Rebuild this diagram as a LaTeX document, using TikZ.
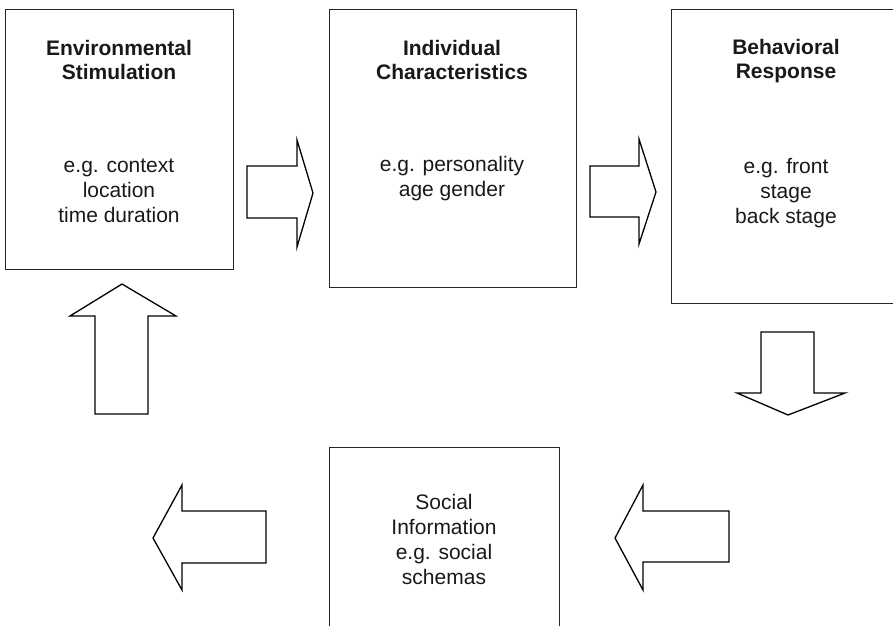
\documentclass[tikz,border=0pt]{standalone}
\usepackage{fontspec}
\setmainfont{Liberation Sans}
\usetikzlibrary{positioning}

\begin{document}
\begin{tikzpicture}[x=1pt,y=-1pt,
    stagebox/.style={draw=black!85, line width=1pt, anchor=north west, inner sep=0pt},
    headtxt/.style={font=\fontsize{21}{24.5}\selectfont\bfseries, align=center, inner sep=0pt, text=black!90},
    bodytxt/.style={font=\fontsize{21}{25}\selectfont, align=center, inner sep=0pt, text=black!90},
    blockarrow/.style={draw=black, line width=1.3pt, line join=miter}]
			%%%%% START %%%%%
			
			\useasboundingbox (0,0) rectangle (893,625);
			\clip (0,0) rectangle (893,625);
			
			% the four boxes
			\node[stagebox, minimum width=228, minimum height=260] (env) at (5,9) {};
			\node[headtxt] (envhead) at (119,60) {Environmental\\Stimulation};
			\node[bodytxt] (envbody) at (119,191) {e.g. context\\location\\time duration};
			
			\node[stagebox, minimum width=247, minimum height=278] (ind) at (329,9) {};
			\node[headtxt] (indhead) at (452,60) {Individual\\Characteristics};
			\node[bodytxt] (indbody) at (452,179) {e.g. personality\\age gender};
			
			\node[stagebox, minimum width=232, minimum height=294] (beh) at (671,9) {};
			\node[headtxt] (behhead) at (786,61) {Behavioral\\Response};
			\node[bodytxt] (behbody) at (786,193) {e.g. front\\stage\\back stage};
			
			\node[stagebox, minimum width=230, minimum height=200] (soc) at (329,447) {};
			\node[bodytxt] (socbody) at (444,539) {Social\\Information\\e.g. social\\schemas};
			
			% block arrows
			\draw[blockarrow] (247,166) -- (297,166) -- (297,140) -- (313,193) -- (297,247) -- (297,218) -- (247,218) -- cycle;
			\draw[blockarrow] (590,166) -- (639,166) -- (639,139) -- (656,192) -- (639,244) -- (639,217) -- (590,217) -- cycle;
			\draw[blockarrow] (761,332) -- (814,332) -- (814,393) -- (845,393) -- (788,415) -- (737,393) -- (761,393) -- cycle;
			\draw[blockarrow] (729,511) -- (643,511) -- (643,485) -- (615,538) -- (643,590) -- (643,562) -- (729,562) -- cycle;
			\draw[blockarrow] (266,511) -- (182,511) -- (182,485) -- (153,538) -- (182,590) -- (182,563) -- (266,563) -- cycle;
			\draw[blockarrow] (95,414) -- (95,316) -- (70,316) -- (122,284) -- (176,316) -- (148,316) -- (148,414) -- cycle;
			
			%%%%% END %%%%%
\end{tikzpicture}
\end{document}
